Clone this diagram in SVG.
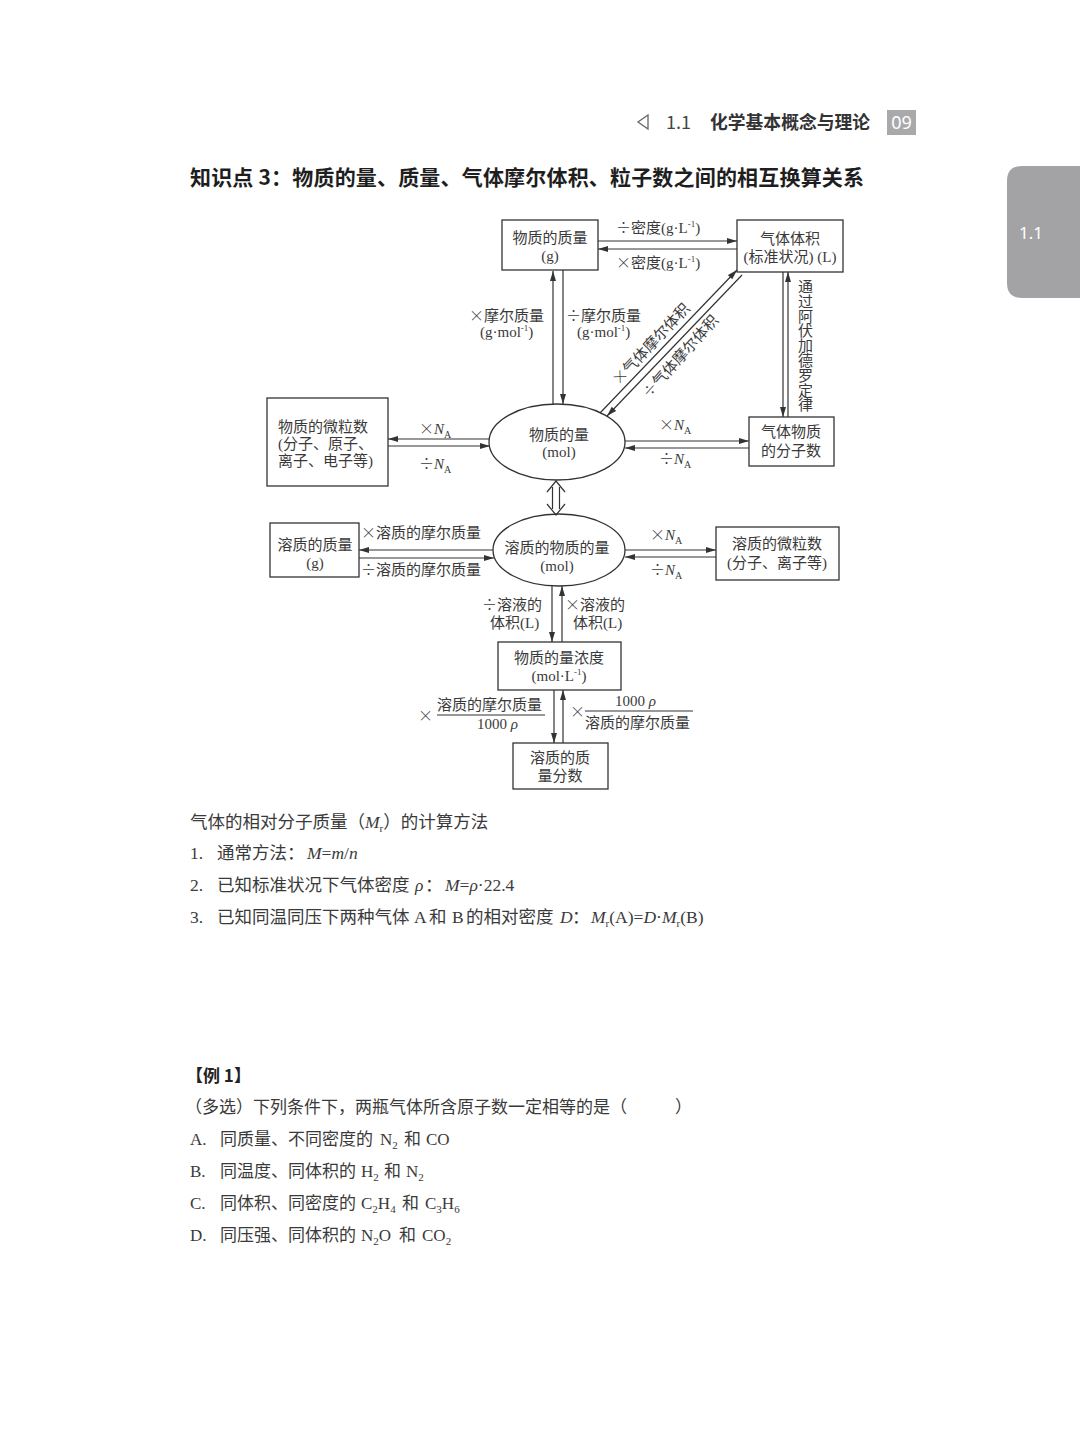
<svg xmlns="http://www.w3.org/2000/svg" width="1080" height="1455" viewBox="0 0 1080 1455">
<style>
.t{font-family:"Liberation Serif","Noto Sans CJK SC",serif;font-size:15px;fill:#3a3a3a}
.c{text-anchor:middle}
.b{font-family:"Liberation Serif","Noto Sans CJK SC",serif;font-size:17.5px;fill:#3a3a3a}
.e{font-family:"Liberation Serif","Noto Sans CJK SC",serif;font-size:17px;fill:#3a3a3a}
.box{fill:none;stroke:#333;stroke-width:1.3}
.ln{fill:none;stroke:#333;stroke-width:1.2}
.a{marker-end:url(#ah)}
.i{font-style:italic}
.sup{font-size:9px}
.sub{font-size:10px}
.op{font-family:"Noto Sans CJK SC",sans-serif;font-size:15px;font-feature-settings:"fwid" 1;font-weight:300}
</style>
<defs>
<marker id="ah" markerUnits="userSpaceOnUse" markerWidth="11" markerHeight="7" refX="10" refY="3.5" orient="auto">
<path d="M0,0.5 L10,3.5 L0,6.5 Z" fill="#333"/>
</marker>
</defs>
<rect width="1080" height="1455" fill="#ffffff"/>

<!-- header -->
<g id="header">
<polygon points="648,115 638,122 648,129" fill="none" stroke="#666" stroke-width="1.3"/>
<text x="666" y="129" font-family="'Noto Sans CJK SC','Noto Sans',sans-serif" font-size="18" fill="#444">1.1</text>
<text x="710" y="129" font-family="'Noto Sans CJK SC',sans-serif" font-size="17.8" font-weight="bold" fill="#333">化学基本概念与理论</text>
<rect x="887" y="110" width="29" height="25" fill="#a9a9ab"/>
<text x="901.5" y="129" text-anchor="middle" font-family="'Noto Sans',sans-serif" font-size="18" fill="#fff">09</text>
</g>
<g id="tab">
<path d="M1080,166 L1022,166 Q1007,166 1007,181 L1007,283 Q1007,298 1022,298 L1080,298 Z" fill="#a3a3a6"/>
<text x="1019" y="239" font-family="'Noto Sans',sans-serif" font-size="17" fill="#fff">1.1</text>
</g>
<text id="title" x="190" y="185" textLength="674" lengthAdjust="spacing" font-family="'Noto Sans CJK SC',sans-serif" font-size="21" font-weight="bold" fill="#1e1e1e">知识点 3：物质的量、质量、气体摩尔体积、粒子数之间的相互换算关系</text>

<!-- nodes -->
<g id="n-mass">
<rect class="box" x="502" y="220" width="96" height="50"/>
<text class="t c" x="550" y="243">物质的质量</text>
<text class="t c" x="550" y="261">(g)</text>
</g>
<g id="n-gasvol">
<rect class="box" x="737" y="220" width="106" height="52"/>
<text class="t c" x="790" y="244">气体体积</text>
<text class="t c" x="790" y="262">(标准状况) (L)</text>
</g>
<g id="n-particles">
<rect class="box" x="267" y="398" width="121" height="88"/>
<text class="t" x="278" y="432">物质的微粒数</text>
<text class="t" x="278" y="449">(分子、原子、</text>
<text class="t" x="278" y="466">离子、电子等)</text>
</g>
<g id="n-mol">
<ellipse class="box" cx="557" cy="442" rx="68" ry="38"/>
<text class="t c" x="559" y="440">物质的量</text>
<text class="t c" x="559" y="457">(mol)</text>
</g>
<g id="n-gasmol">
<rect class="box" x="749" y="417" width="85" height="49"/>
<text class="t c" x="791" y="437">气体物质</text>
<text class="t c" x="791" y="456">的分子数</text>
</g>
<g id="n-solmass">
<rect class="box" x="270" y="523" width="89" height="54"/>
<text class="t c" x="315" y="550">溶质的质量</text>
<text class="t c" x="315" y="568">(g)</text>
</g>
<g id="n-solmol">
<ellipse class="box" cx="559" cy="550" rx="66" ry="36"/>
<text class="t c" x="557" y="553">溶质的物质的量</text>
<text class="t c" x="557" y="571">(mol)</text>
</g>
<g id="n-solparticles">
<rect class="box" x="716" y="527" width="123" height="53"/>
<text class="t c" x="777" y="549">溶质的微粒数</text>
<text class="t c" x="777" y="568">(分子、离子等)</text>
</g>
<g id="n-conc">
<rect class="box" x="498" y="642" width="123" height="48"/>
<text class="t c" x="559" y="663">物质的量浓度</text>
<text class="t c" x="559" y="681">(mol·L<tspan class="sup" dy="-6">-1</tspan><tspan dy="6">)</tspan></text>
</g>
<g id="n-fraction">
<rect class="box" x="513" y="743" width="95" height="46"/>
<text class="t c" x="560" y="763">溶质的质</text>
<text class="t c" x="560" y="781">量分数</text>
</g>

<!-- connectors -->
<g id="connectors">
<path class="ln a" d="M598,241 L737,241"/>
<path class="ln a" d="M737,249 L598,249"/>
<path class="ln a" d="M553,404 L553,271"/>
<path class="ln a" d="M563,270 L563,404"/>
<path class="ln a" d="M600,413 L737,270"/>
<path class="ln a" d="M742,275 L607,416"/>
<path class="ln a" d="M783,272 L783,417"/>
<path class="ln a" d="M788,417 L788,272"/>
<path class="ln a" d="M489,439 L388,439"/>
<path class="ln a" d="M388,446 L490,446"/>
<path class="ln a" d="M625,441 L749,441"/>
<path class="ln a" d="M749,448 L625,448"/>
<path class="ln" d="M552.5,487 L552.5,509 M559.5,487 L559.5,509 M547,492 L556,481 L565,492 M547,504 L556,515 L565,504"/>
<path class="ln a" d="M493,550 L359,550"/>
<path class="ln a" d="M359,558 L494,558"/>
<path class="ln a" d="M625,550 L716,550"/>
<path class="ln a" d="M716,557 L625,557"/>
<path class="ln a" d="M552,586 L552,642"/>
<path class="ln a" d="M562,642 L562,586"/>
<path class="ln a" d="M554,690 L554,743"/>
<path class="ln a" d="M563,743 L563,690"/>
<path class="ln" d="M437,715 L545,715 M585,711 L693,711"/>
</g>

<!-- connector labels -->
<g id="labels">
<text class="t" x="616" y="233"><tspan class="op">÷</tspan>密度(g·L<tspan class="sup" dy="-6">-1</tspan><tspan dy="6">)</tspan></text>
<text class="t" x="616" y="268"><tspan class="op">×</tspan>密度(g·L<tspan class="sup" dy="-6">-1</tspan><tspan dy="6">)</tspan></text>
<text class="t" x="469" y="321"><tspan class="op">×</tspan>摩尔质量</text>
<text class="t" x="480" y="337">(g·mol<tspan class="sup" dy="-6">-1</tspan><tspan dy="6">)</tspan></text>
<text class="t" x="566" y="321"><tspan class="op">÷</tspan>摩尔质量</text>
<text class="t" x="577" y="337">(g·mol<tspan class="sup" dy="-6">-1</tspan><tspan dy="6">)</tspan></text>
<text class="t" x="619" y="386" transform="rotate(-47 619 386)"><tspan class="op">×</tspan>气体摩尔体积</text>
<text class="t" x="649" y="399" transform="rotate(-48 649 399)"><tspan class="op">÷</tspan>气体摩尔体积</text>
<text class="t" x="798" y="292">通<tspan x="798" dy="14.8">过</tspan><tspan x="798" dy="14.8">阿</tspan><tspan x="798" dy="14.8">伏</tspan><tspan x="798" dy="14.8">加</tspan><tspan x="798" dy="14.8">德</tspan><tspan x="798" dy="14.8">罗</tspan><tspan x="798" dy="14.8">定</tspan><tspan x="798" dy="14.8">律</tspan></text>
<text class="t" x="419" y="434"><tspan class="op">×</tspan><tspan class="i">N</tspan><tspan class="sub" dy="4">A</tspan></text>
<text class="t" x="419" y="469"><tspan class="op">÷</tspan><tspan class="i">N</tspan><tspan class="sub" dy="4">A</tspan></text>
<text class="t" x="659" y="430"><tspan class="op">×</tspan><tspan class="i">N</tspan><tspan class="sub" dy="4">A</tspan></text>
<text class="t" x="659" y="464"><tspan class="op">÷</tspan><tspan class="i">N</tspan><tspan class="sub" dy="4">A</tspan></text>
<text class="t" x="361" y="538"><tspan class="op">×</tspan>溶质的摩尔质量</text>
<text class="t" x="361" y="575"><tspan class="op">÷</tspan>溶质的摩尔质量</text>
<text class="t" x="650" y="540"><tspan class="op">×</tspan><tspan class="i">N</tspan><tspan class="sub" dy="4">A</tspan></text>
<text class="t" x="650" y="575"><tspan class="op">÷</tspan><tspan class="i">N</tspan><tspan class="sub" dy="4">A</tspan></text>
<text class="t" x="482" y="610"><tspan class="op">÷</tspan>溶液的</text>
<text class="t" x="490" y="628">体积(L)</text>
<text class="t" x="565" y="610"><tspan class="op">×</tspan>溶液的</text>
<text class="t" x="573" y="628">体积(L)</text>
<text class="t" x="418" y="721"><tspan class="op">×</tspan></text>
<text class="t" x="437" y="710">溶质的摩尔质量</text>
<text class="t" x="477" y="729">1000<tspan class="i"> ρ</tspan></text>
<text class="t" x="570" y="717"><tspan class="op">×</tspan></text>
<text class="t" x="615" y="706">1000<tspan class="i"> ρ</tspan></text>
<text class="t" x="585" y="728">溶质的摩尔质量</text>
</g>

<!-- body text -->
<g id="notes">
<text class="b" x="190" y="828">气体的相对分子质量（<tspan class="i">M</tspan><tspan font-size="11" dy="4">r</tspan><tspan dy="-4">）的计算方法</tspan></text>
<text class="b" x="190" y="859">1.<tspan x="217">通常方法：</tspan><tspan x="307" class="i">M</tspan>=<tspan class="i">m</tspan>/<tspan class="i">n</tspan></text>
<text class="b" x="190" y="891">2.<tspan x="217">已知标准状况下气体密度</tspan><tspan x="415" class="i">ρ</tspan><tspan x="425">：</tspan><tspan x="445" class="i">M</tspan>=<tspan class="i">ρ</tspan>·22.4</text>
<text class="b" x="190" y="923">3.<tspan x="217">已知同温同压下两种气体</tspan><tspan x="414">A</tspan><tspan x="429">和</tspan><tspan x="452">B</tspan><tspan x="466">的相对密度</tspan><tspan x="560" class="i">D</tspan><tspan x="572">：</tspan><tspan x="591" class="i">M</tspan><tspan font-size="11" dy="4">r</tspan><tspan dy="-4">(A)=</tspan><tspan class="i">D</tspan>·<tspan class="i">M</tspan><tspan font-size="11" dy="4">r</tspan><tspan dy="-4">(B)</tspan></text>
</g>
<g id="example">
<text x="186" y="1082" font-family="'Noto Sans CJK SC',sans-serif" font-size="17" font-weight="bold" fill="#222">【例 1】</text>
<text class="e" x="185" y="1113">（多选）下列条件下，两瓶气体所含原子数一定相等的是（<tspan x="675">）</tspan></text>
<text class="e" x="190" y="1145">A.<tspan x="220">同质量、不同密度的</tspan><tspan x="380">N</tspan><tspan font-size="11" dy="4">2</tspan><tspan x="404" dy="-4">和</tspan><tspan x="426">CO</tspan></text>
<text class="e" x="190" y="1177">B.<tspan x="220">同温度、同体积的</tspan><tspan x="361">H</tspan><tspan font-size="11" dy="4">2</tspan><tspan x="384" dy="-4">和</tspan><tspan x="406">N</tspan><tspan font-size="11" dy="4">2</tspan></text>
<text class="e" x="190" y="1209">C.<tspan x="220">同体积、同密度的</tspan><tspan x="361">C</tspan><tspan font-size="11" dy="4">2</tspan><tspan dy="-4">H</tspan><tspan font-size="11" dy="4">4</tspan><tspan x="402" dy="-4">和</tspan><tspan x="425">C</tspan><tspan font-size="11" dy="4">3</tspan><tspan dy="-4">H</tspan><tspan font-size="11" dy="4">6</tspan></text>
<text class="e" x="190" y="1241">D.<tspan x="220">同压强、同体积的</tspan><tspan x="361">N</tspan><tspan font-size="11" dy="4">2</tspan><tspan dy="-4">O</tspan><tspan x="399">和</tspan><tspan x="422">CO</tspan><tspan font-size="11" dy="4">2</tspan></text>
</g>
</svg>
